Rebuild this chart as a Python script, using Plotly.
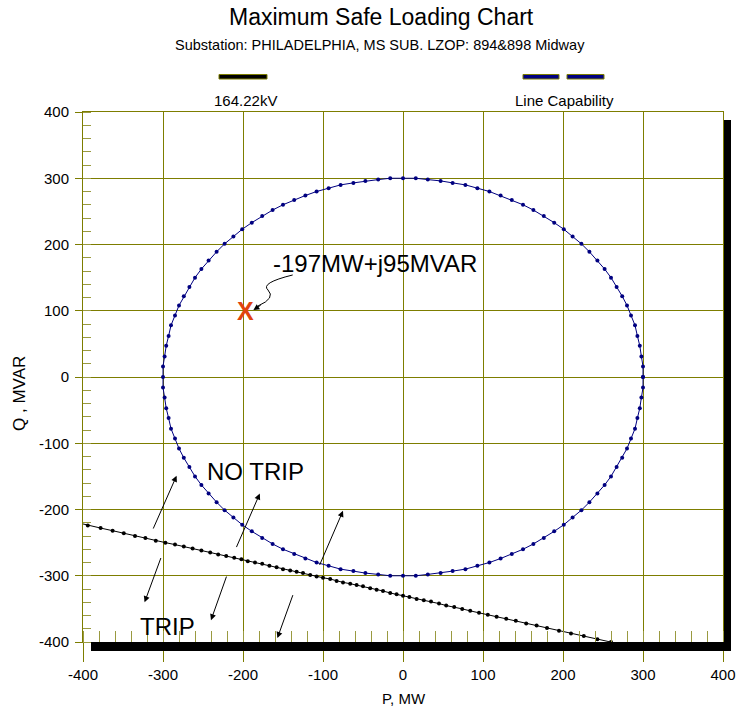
import plotly.graph_objects as go

# ---------------- data ----------------
# Line capability circle (P, Q in MW / MVAR)
cap_P = [300, 300, 298, 296, 293, 290, 285, 280, 274, 267, 260, 252, 243, 233, 223, 212, 201, 189, 176, 163,
         150, 136, 122, 108, 93, 78, 62, 47, 31, 16, 0,
         -16, -31, -47, -62, -78, -93, -108, -122, -136, -150, -163, -176, -189, -201, -212, -223, -233, -243,
         -252, -260, -267, -274, -280, -285, -290, -293, -296, -298, -300, -300,
         -300, -298, -296, -293, -290, -285, -280, -274, -267, -260, -252, -243, -233, -223, -212, -201, -189,
         -176, -163, -150, -136, -122, -108, -93, -78, -62, -47, -31, -16, 0,
         16, 31, 47, 62, 78, 93, 108, 122, 136, 150, 163, 176, 189, 201, 212, 223, 233, 243, 252, 260, 267,
         274, 280, 285, 290, 293, 296, 298, 300, 300]
cap_Q = [0, 16, 31, 47, 62, 78, 93, 108, 122, 136, 150, 163, 176, 189, 201, 212, 223, 233, 243, 252,
         260, 267, 274, 280, 285, 290, 293, 296, 298, 300, 300,
         300, 298, 296, 293, 290, 285, 280, 274, 267, 260, 252, 243, 233, 223, 212, 201, 189, 176,
         163, 150, 136, 122, 108, 93, 78, 62, 47, 31, 16, 0,
         -16, -31, -47, -62, -78, -93, -108, -122, -136, -150, -163, -176, -189, -201, -212, -223, -233,
         -243, -252, -260, -267, -274, -280, -285, -290, -293, -296, -298, -300, -300,
         -300, -298, -296, -293, -290, -285, -280, -274, -267, -260, -252, -243, -233, -223, -212, -201,
         -189, -176, -163, -150, -136, -122, -108, -93, -78, -62, -47, -31, -16, 0]

# 164.22kV trip characteristic
kv_P = [-410, -394, -378, -363, -349, -335, -322, -309, -297, -285, -274, -263, -252, -241, -231, -221, -211,
        -202, -194, -185, -176, -167, -158, -150, -141, -133, -125, -116, -108, -100, -91, -83, -75, -66,
        -58, -50, -41, -33, -25, -16, -8, 0, 8, 17, 26, 35, 45, 54, 64, 74, 84, 95, 106, 117, 129, 141,
        154, 167, 180, 195, 210, 226, 243, 260, 278]
kv_Q = [-219, -224, -228, -232, -236, -240, -243, -247, -250, -253, -256, -259, -262, -265, -268, -270, -273,
        -275, -278, -280, -282, -285, -287, -290, -292, -294, -296, -299, -301, -303, -305, -308, -310, -312,
        -314, -316, -319, -321, -323, -326, -328, -330, -332, -335, -337, -339, -342, -345, -347, -350, -353,
        -356, -359, -362, -365, -368, -372, -375, -379, -383, -387, -391, -396, -400, -405]

# operating point
op_P = [-197]
op_Q = [95]
op_label = "-197MW+j95MVAR"

# axis ticks
tick_vals = [-400, -300, -200, -100, 0, 100, 200, 300, 400]
tick_text = ["-400", "-300", "-200", "-100", "0", "100", "200", "300", "400"]

title_text = "Maximum Safe Loading Chart"
subtitle_text = "Substation: PHILADELPHIA, MS SUB. LZOP: 894&898 Midway"
legend_names = ["164.22kV", "Line Capability"]
x_title = "P, MW"
y_title = "Q , MVAR"

# ---------------- styles ----------------
OLIVE = "#7d7d00"
NAVY = "#000080"
FONT = "Liberation Sans, Arial, sans-serif"

fig = go.Figure()

fig.add_trace(go.Scatter(x=kv_P, y=kv_Q, mode="lines+markers", name=legend_names[0],
                         line=dict(color="black", width=1),
                         marker=dict(color="black", size=4), showlegend=False, hoverinfo="skip"))
fig.add_trace(go.Scatter(x=cap_P, y=cap_Q, mode="lines+markers", name=legend_names[1],
                         line=dict(color=NAVY, width=1),
                         marker=dict(color=NAVY, size=4), showlegend=False, hoverinfo="skip"))
fig.add_trace(go.Scatter(x=op_P, y=op_Q, mode="text", text=["X"], textposition="middle center",
                         textfont=dict(family=FONT, size=25, color="#E0430E", weight="bold"),
                         showlegend=False, hoverinfo="skip"))

axis_common = dict(range=[-400, 400], tickmode="array", tickvals=tick_vals, ticktext=tick_text,
                   showgrid=True, gridcolor=OLIVE, gridwidth=1, automargin=False,
                   zeroline=False, showline=True, linecolor=OLIVE, linewidth=1, mirror=True,
                   tickcolor=OLIVE, tickfont=dict(family=FONT, size=15, color="black"),
                   fixedrange=True)

fig.update_xaxes(**axis_common, ticks="outside", ticklen=19, tickwidth=1, ticklabelstandoff=0,
                 minor=dict(tickmode="linear", tick0=0, dtick=20, ticks="inside", ticklen=11,
                            tickcolor="#9a9a40", showgrid=False))
fig.update_yaxes(**axis_common, ticks="outside", ticklen=7, tickwidth=1, ticklabelstandoff=3,
                 minor=dict(tickmode="linear", tick0=0, dtick=20, ticks="inside", ticklen=8,
                            tickcolor="#9a9a40", showgrid=False))

W, H = 737, 712
L, R, T, B = 83, 14, 112, 70
PW, PH = W - L - R, H - T - B


def px(xp):
    return (xp - L) / PW


def py(yp):
    return (H - B - yp) / PH


shapes = []
# drop shadow (right + bottom)
shapes.append(dict(type="rect", xref="paper", yref="paper", x0=px(724), x1=px(731), y0=py(651), y1=py(120),
                   fillcolor="black", line=dict(width=0), layer="above"))
shapes.append(dict(type="rect", xref="paper", yref="paper", x0=px(91), x1=px(731), y0=py(651), y1=py(642),
                   fillcolor="black", line=dict(width=0), layer="above"))
# legend samples
shapes.append(dict(type="rect", xref="paper", yref="paper", x0=px(219), x1=px(267), y0=py(79), y1=py(74.5),
                   fillcolor="black", line=dict(color=OLIVE, width=1)))
shapes.append(dict(type="rect", xref="paper", yref="paper", x0=px(523), x1=px(559), y0=py(79), y1=py(74.5),
                   fillcolor=NAVY, line=dict(color=OLIVE, width=1)))
shapes.append(dict(type="rect", xref="paper", yref="paper", x0=px(567), x1=px(604), y0=py(79), y1=py(74.5),
                   fillcolor=NAVY, line=dict(color=OLIVE, width=1)))
# curved pointer to the operating point
shapes.append(dict(type="path", xref="x", yref="y",
                   path="M -137.9,154 Q -178.75,141.9 -168.75,131.3 Q -158.75,119.2 -181.25,107.2",
                   line=dict(color="black", width=1)))

annotations = [
    dict(text=title_text, xref="paper", yref="paper", x=px(381), y=py(17), showarrow=False,
         xanchor="center", yanchor="middle", font=dict(family=FONT, size=23, color="black")),
    dict(text=subtitle_text, xref="paper", yref="paper", x=px(380), y=py(45), showarrow=False,
         xanchor="center", yanchor="middle", font=dict(family=FONT, size=14.5, color="black")),
    dict(text=legend_names[0], xref="paper", yref="paper", x=px(245), y=py(101), showarrow=False,
         xanchor="center", yanchor="middle", font=dict(family=FONT, size=15, color="black")),
    dict(text=legend_names[1], xref="paper", yref="paper", x=px(564), y=py(101), showarrow=False,
         xanchor="center", yanchor="middle", font=dict(family=FONT, size=15, color="black")),
    dict(text=x_title, xref="paper", yref="paper", x=px(404), y=py(698), showarrow=False,
         xanchor="center", yanchor="middle", font=dict(family=FONT, size=15, color="black")),
    dict(text=y_title, xref="paper", yref="paper", x=px(19), y=py(394), showarrow=False, textangle=-90,
         xanchor="center", yanchor="middle", font=dict(family=FONT, size=17, color="black")),
    dict(text=op_label, xref="x", yref="y", x=-165.4, y=172, showarrow=False,
         xanchor="left", yanchor="middle", font=dict(family=FONT, size=24, color="black")),
    dict(text="NO TRIP", xref="x", yref="y", x=-247.5, y=-143, showarrow=False,
         xanchor="left", yanchor="middle", font=dict(family=FONT, size=24, color="black")),
    dict(text="TRIP", xref="x", yref="y", x=-331, y=-376, showarrow=False,
         xanchor="left", yanchor="middle", font=dict(family=FONT, size=24, color="black")),
]

# straight arrows (head, tail) in data coordinates
arrows = [((-283, -149), (-313, -231)), ((-179, -176), (-209, -259)), ((-75, -202), (-105, -286)),
          ((-323, -340), (-302, -271)), ((-240, -367), (-220, -299)), ((-157, -394), (-137, -327)),
          ((-187, 101), (-176, 110))]
for (hx, hy), (tx, ty) in arrows:
    annotations.append(dict(text="", x=hx, y=hy, ax=tx, ay=ty, xref="x", yref="y", axref="x", ayref="y",
                            showarrow=True, arrowhead=2, arrowsize=1.2, arrowwidth=1, arrowcolor="black",
                            standoff=0, startstandoff=0))

fig.update_layout(width=W, height=H, margin=dict(l=L, r=R, t=T, b=B),
                  paper_bgcolor="white", plot_bgcolor="white",
                  shapes=shapes, annotations=annotations, showlegend=False)

fig.write_html("out.html")
